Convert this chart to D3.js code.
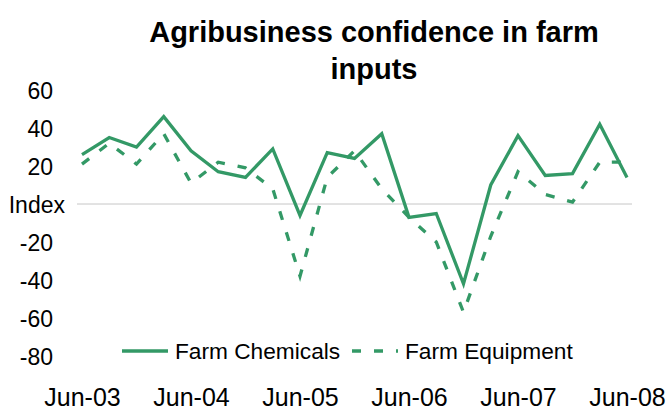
<!DOCTYPE html>
<html>
<head>
<meta charset="utf-8">
<script src="https://cdn.jsdelivr.net/npm/d3@7"></script>
<style>
  body { margin: 0; background: #fff; }
  svg { display: block; font-family: "Liberation Sans", Arial, sans-serif; }
</style>
</head>
<body>
<svg id="canvas" width="667" height="410"></svg>
<script>
// quarterly survey, Jun-03 .. Jun-08
const quarters = ["Jun-03","Sep-03","Dec-03","Mar-04","Jun-04","Sep-04","Dec-04","Mar-05","Jun-05",
  "Sep-05","Dec-05","Mar-06","Jun-06","Sep-06","Dec-06","Mar-07","Jun-07","Sep-07","Dec-07","Mar-08","Jun-08"]
const chemicals = [26, 35, 30, 46, 28, 17, 14, 29, -6, 27, 24, 37, -7, -5, -42, 10, 36, 15, 16, 42, 14]
const equipment = [21, 32, 21, 37, 11, 22, 19, 8, -38, 14, 28, 8, -7, -20, -57, -17, 17, 5, 1, 22, 22]
const yTicks = [-80, -60, -40, -20, 0, 20, 40, 60]
const xLabels = ["Jun-03","Jun-04","Jun-05","Jun-06","Jun-07","Jun-08"]

const green = "#339966"
const svg = d3.select("#canvas")

const x = d3.scalePoint().domain(quarters).range([82, 627])
const y = d3.scaleLinear().domain([-80, 60]).range([356, 90])

//title
const title = svg.append("text")
  .attr("x", 374).attr("y", 42)
  .attr("text-anchor", "middle")
  .style("font-size", "29px").style("font-weight", "bold")
title.append("tspan").attr("x", 374).text("Agribusiness confidence in farm")
title.append("tspan").attr("x", 374).attr("dy", 37).text("inputs")

//zero gridline
svg.append("line")
  .attr("x1", 77).attr("x2", 632)
  .attr("y1", y(0)).attr("y2", y(0))
  .attr("stroke", "#c6c6c6").attr("stroke-width", 1)

//y axis (labels only)
const yAxis = svg.append("g")
  .attr("transform", "translate(53,0)")
  .call(d3.axisLeft(y).tickValues(yTicks).tickSize(0).tickPadding(0)
    .tickFormat(d => d === 0 ? "Index" : d))
yAxis.select(".domain").remove()
yAxis.selectAll("text")
  .attr("dy", "0.36em")
  .style("font-size", "23px").style("font-family", "Liberation Sans, Arial, sans-serif")
  .attr("fill", "#000")
  .attr("x", d => d === 0 ? 12 : 0)

//x axis (labels only)
const xAxis = svg.append("g")
  .attr("transform", "translate(0,388)")
  .call(d3.axisBottom(x).tickValues(xLabels).tickSize(0).tickPadding(0))
xAxis.select(".domain").remove()
xAxis.selectAll("text")
  .style("font-size", "25px").style("font-family", "Liberation Sans, Arial, sans-serif")
  .attr("fill", "#000")

//lines
const line = d3.line().x((d, i) => x(quarters[i])).y(d => y(d))

svg.append("path")
  .datum(equipment)
  .attr("d", line)
  .attr("fill", "none")
  .attr("stroke", green).attr("stroke-width", 3.3)
  .attr("stroke-dasharray", "9,13")

svg.append("path")
  .datum(chemicals)
  .attr("d", line)
  .attr("fill", "none")
  .attr("stroke", green).attr("stroke-width", 3.3)
  .attr("stroke-linejoin", "miter")

//legend
const legend = svg.append("g").attr("transform", "translate(0,351)")
legend.append("line")
  .attr("x1", 122).attr("x2", 168)
  .attr("stroke", green).attr("stroke-width", 3.3)
legend.append("text")
  .attr("x", 175).attr("dy", "0.36em")
  .style("font-size", "22.7px")
  .text("Farm Chemicals")
legend.append("line")
  .attr("x1", 352).attr("x2", 398)
  .attr("stroke", green).attr("stroke-width", 3.3)
  .attr("stroke-dasharray", "9,13")
legend.append("text")
  .attr("x", 405).attr("dy", "0.36em")
  .style("font-size", "22.7px")
  .text("Farm Equipment")
</script>
</body>
</html>
